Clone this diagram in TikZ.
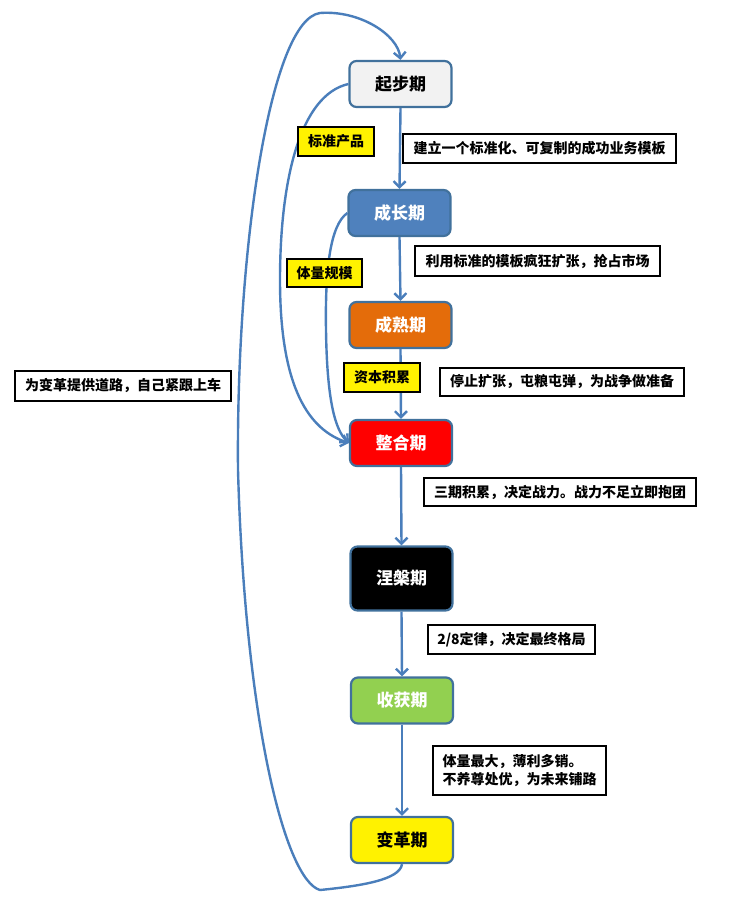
\documentclass[tikz,border=0pt]{standalone}
\usepackage{fontspec}
\setmainfont{Noto Sans CJK SC}
\usetikzlibrary{arrows.meta}
\definecolor{bord}{HTML}{41719C}
\definecolor{conn}{HTML}{4A7EBB}
\definecolor{cgrey}{HTML}{F2F2F2}
\definecolor{cblue}{HTML}{4F81BD}
\definecolor{corange}{HTML}{E46C0A}
\definecolor{cgreen}{HTML}{92D050}
\tikzset{
  stage/.style={draw=bord, line width=2.2pt, rounded corners=7pt, minimum width=102pt,
    minimum height=46pt, inner sep=0pt, font=\bfseries\fontsize{17}{20}\selectfont},
  note/.style={draw=black, line width=1.8pt, fill=white, inner sep=0pt,
    font=\bfseries\fontsize{14}{18}\selectfont},
  ynote/.style={note, fill=yellow},
  link/.style={draw=conn, line width=2.4pt, -{Straight Barb[length=6pt,width=12pt,line width=2.4pt]}}
}
\begin{document}
\begin{tikzpicture}[x=1pt,y=-1pt]
\useasboundingbox (0,0) rectangle (733,921);
% stages
\node[stage, fill=cgrey, text=black] (s1) at (400.5,84) {起步期};
\node[stage, fill=cblue, text=white] (s2) at (399.5,213) {成长期};
\node[stage, fill=corange, text=white] (s3) at (400.5,325) {成熟期};
\node[stage, fill=red, text=white] (s4) at (401,443) {整合期};
\node[stage, fill=black, text=white, minimum height=64pt] (s5) at (401.5,578.5) {涅槃期};
\node[stage, fill=cgreen, text=white] (s6) at (402,700.5) {收获期};
\node[stage, fill=yellow, text=black] (s7) at (402,840) {变革期};
% straight links
\draw[link] (s1.south) -- (s2.north);
\draw[link] (s2.south) -- (s3.north);
\draw[link] (s3.south) -- (s4.north);
\draw[link] (s4.south) -- (s5.north);
\draw[link] (s5.south) -- (s6.north);
\draw[link] (s6.south) -- (s7.north);
% curved links
\draw[link] (s1.west) .. controls (300,95) and (280,180) .. (280,280)
  .. controls (280,390) and (310,430) .. (s4.west);
\draw[link] (s2.west) .. controls (330,225) and (325,270) .. (326,330)
  .. controls (327,400) and (335,430) .. (s4.west);
\draw[link] (s7.south) .. controls (400,880) and (360,886) .. (320,890)
  .. controls (285,880) and (245,720) .. (238,470)
  .. controls (236,250) and (270,20) .. (320,13)
  .. controls (360,10) and (398,35) .. (s1.north);
% notes
\node[ynote, minimum width=76pt, minimum height=29pt] (y1) at (336,141.5) {标准产品};
\node[ynote, minimum width=75pt, minimum height=28pt] (y2) at (324.5,273) {体量规模};
\node[ynote, minimum width=76pt, minimum height=29pt] (y3) at (382,377.5) {资本积累};
\node[note, minimum width=273pt, minimum height=29pt] (n1) at (539.5,148.5) {建立一个标准化、可复制的成功业务模板};
\node[note, minimum width=245pt, minimum height=30pt] (n2) at (537.5,261) {利用标准的模板疯狂扩张，抢占市场};
\node[note, minimum width=244pt, minimum height=28pt] (n3) at (562,382) {停止扩张，屯粮屯弹，为战争做准备};
\node[note, minimum width=272pt, minimum height=28pt] (n4) at (560,492) {三期积累，决定战力。战力不足立即抱团};
\node[note, minimum width=167pt, minimum height=29pt] (n5) at (511.5,639.5) {2/8定律，决定最终格局};
\node[note, minimum width=173pt, minimum height=49pt, align=left] (n6) at (519.5,770.5) {体量最大，薄利多销。\\不养尊处优，为未来铺路};
\node[note, minimum width=216pt, minimum height=30pt] (n7) at (123,386) {为变革提供道路，自己紧跟上车};
\end{tikzpicture}
\end{document}
